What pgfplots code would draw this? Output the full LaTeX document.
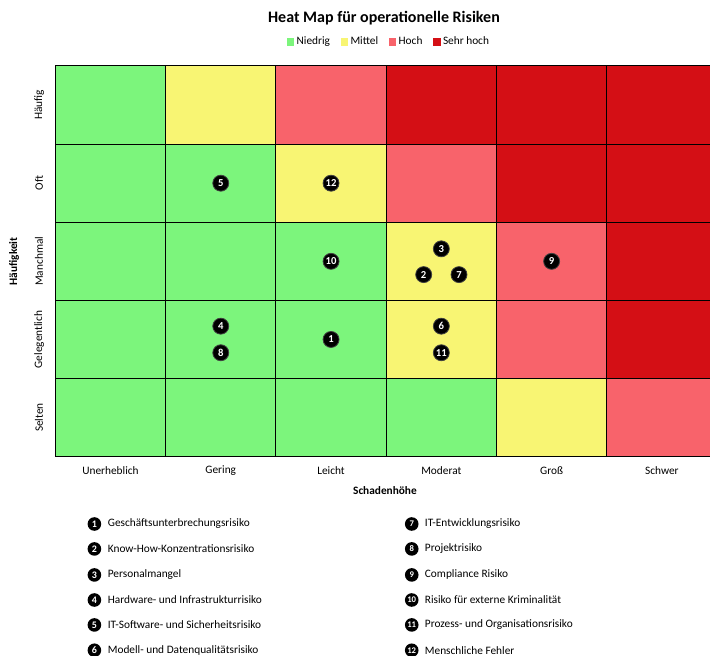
\documentclass[border=0pt]{standalone}
\usepackage{pgfplots}
\pgfplotsset{compat=1.18}
\usepackage{pgfplotstable}
\usepackage{fontspec}
\setmainfont{Carlito}
\definecolor{cG}{RGB}{124,245,124}
\definecolor{cY}{RGB}{248,245,115}
\definecolor{cH}{RGB}{248,99,107}
\definecolor{cS}{RGB}{212,15,21}

\pgfplotstableread{
x y c
0.5 0.5 0
1.5 0.5 0
2.5 0.5 0
3.5 0.5 0
4.5 0.5 1
5.5 0.5 2
0.5 1.5 0
1.5 1.5 0
2.5 1.5 0
3.5 1.5 1
4.5 1.5 2
5.5 1.5 3
0.5 2.5 0
1.5 2.5 0
2.5 2.5 0
3.5 2.5 1
4.5 2.5 2
5.5 2.5 3
0.5 3.5 0
1.5 3.5 0
2.5 3.5 1
3.5 3.5 2
4.5 3.5 3
5.5 3.5 3
0.5 4.5 0
1.5 4.5 1
2.5 4.5 2
3.5 4.5 3
4.5 4.5 3
5.5 4.5 3
}\cells

\pgfplotstableread{
x y n
2.5 1.5 1
3.34 2.33 2
3.5 2.66 3
1.5 1.67 4
1.5 3.5 5
3.5 1.67 6
3.66 2.33 7
1.5 1.33 8
4.5 2.5 9
2.5 2.5 10
3.5 1.33 11
2.5 3.5 12
}\risks

\begin{document}
\begin{tikzpicture}
\begin{axis}[
  at={(0,0)}, anchor=south west,
  scale only axis, width=491pt, height=293pt,
  xmin=0, xmax=5.936, ymin=0, ymax=5,
  axis on top,
  axis line style={draw=none},
  xtick={0.5,1.5,2.5,3.5,4.5,5.5},
  xticklabels={Unerheblich,Gering,Leicht,Moderat,Groß,Schwer},
  ytick={0.5,1.5,2.5,3.5,4.5},
  yticklabels={Selten,Gelegentlich,Manchmal,Oft,Häufig},
  minor xtick={0,1,2,3,4,5},
  minor ytick={0,1,2,3,4,5},
  xminorgrids, yminorgrids,
  minor grid style={black, line width=0.75pt},
  major tick length=0pt, minor tick length=0pt,
  tick style={draw=none},
  ticklabel style={font=\fontsize{8.5}{10}\selectfont},
  xticklabel style={anchor=center, yshift=-10.7pt},
  yticklabel style={xshift=-12.2pt, rotate=90, anchor=center},
  xlabel={Schadenhöhe}, ylabel={Häufigkeit},
  xlabel style={at={(axis description cs:0.5035,-0.0878)}, anchor=center, font=\bfseries\fontsize{8.5}{10}\selectfont},
  ylabel style={at={(axis description cs:-0.063,0.5)}, anchor=center, font=\bfseries\fontsize{8.5}{10}\selectfont},
  title={Heat Map für operationelle Risiken},
  every axis title shift=0pt,
  title style={at={(axis description cs:0.502,1.123)}, anchor=center, font=\bfseries\fontsize{12}{14}\selectfont},
  colormap={risk}{rgb255=(124,245,124) rgb255=(248,245,115) rgb255=(248,99,107) rgb255=(212,15,21)},
  point meta min=0, point meta max=3,
  legend columns=4,
  legend style={at={(axis description cs:0.51,1.062)}, anchor=center, draw=none, fill=none,
    font=\fontsize{8.5}{10}\selectfont, inner sep=0pt,
    /tikz/every even column/.append style={column sep=6pt}},
]
\addlegendimage{legend image code/.code={\fill[cG] (0pt,-2.5pt) rectangle (5pt,2.5pt);}}
\addlegendentry{Niedrig}
\addlegendimage{legend image code/.code={\fill[cY] (0pt,-2.5pt) rectangle (5pt,2.5pt);}}
\addlegendentry{Mittel}
\addlegendimage{legend image code/.code={\fill[cH] (0pt,-2.5pt) rectangle (5pt,2.5pt);}}
\addlegendentry{Hoch}
\addlegendimage{legend image code/.code={\fill[cS] (0pt,-2.5pt) rectangle (5pt,2.5pt);}}
\addlegendentry{Sehr hoch}

\addplot[matrix plot*, mesh/cols=6, point meta=explicit, forget plot]
  table[x=x, y=y, meta=c] {\cells};

\addplot[only marks, mark=*, mark size=6pt,
  mark options={fill=black, draw=black!75, line width=0.6pt},
  point meta=explicit symbolic,
  nodes near coords,
  nodes near coords style={anchor=center, text=white, inner sep=0pt,
    font=\bfseries\fontsize{8}{9}\selectfont},
  forget plot]
  table[x=x, y=y, meta=n] {\risks};
\end{axis}

% key
\begin{scope}[every node/.style={font=\fontsize{8.5}{10}\selectfont}]
\foreach \n/\t/\yy in {1/Geschäftsunterbrechungsrisiko/-50.5, 2/Know-How-Konzentrationsrisiko/-69.2, 3/Personalmangel/-88.7, 4/Hardware- und Infrastrukturrisiko/-107.5, 5/IT-Software- und Sicherheitsrisiko/-126.2, 6/Modell- und Datenqualitätsrisiko/-145.2}{
  \node[circle, fill=black, minimum size=10.2pt, inner sep=0pt, text=white, font=\bfseries\fontsize{7.5}{8}\selectfont] at (29.3pt,\yy pt) {\n};
  \node[anchor=west, inner sep=0pt] at (39.2pt,\yy pt) {\t};
}
\foreach \n/\t/\yy in {7/IT-Entwicklungsrisiko/-50.5, 8/Projektrisiko/-69.2, 9/Compliance Risiko/-88.7, 10/Risiko für externe Kriminalität/-107.5, 11/Prozess- und Organisationsrisiko/-126.2, 12/Menschliche Fehler/-145.2}{
  \node[circle, fill=black, minimum size=10.2pt, inner sep=0pt, text=white, font=\bfseries\fontsize{6.5}{7}\selectfont] at (267.3pt,\yy pt) {\n};
  \node[anchor=west, inner sep=0pt] at (277pt,\yy pt) {\t};
}
\end{scope}
\pgfresetboundingbox
\path[use as bounding box] (-41.5pt,-149.5pt) rectangle (491pt,342.5pt);
\end{tikzpicture}
\end{document}
